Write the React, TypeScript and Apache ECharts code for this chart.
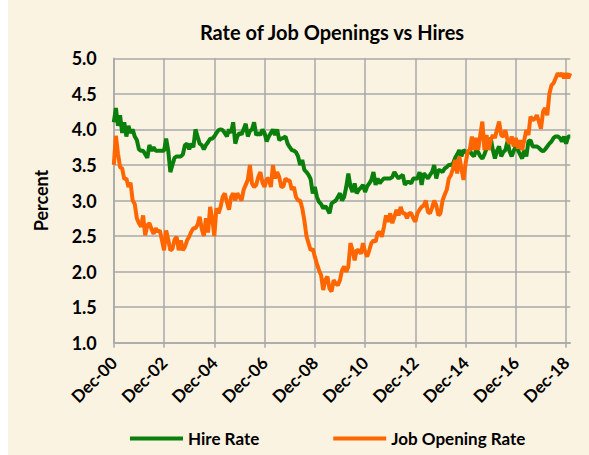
import React, { useEffect, useRef } from "react";
import * as echarts from "echarts";

// Monthly rates, Dec 2000 .. Feb 2019 (one row per year)
const hireRate: number[] = [
  4.1,
  4.3, 4.05, 4.2, 3.95, 4.1, 3.9, 4.05, 3.95, 4.0, 3.9, 3.85, 3.72,
  3.7, 3.7, 3.65, 3.6, 3.78, 3.7, 3.75, 3.7, 3.7, 3.7, 3.7, 3.7,
  3.87, 3.7, 3.4, 3.5, 3.6, 3.62, 3.62, 3.62, 3.65, 3.78, 3.8, 3.72,
  3.8, 3.75, 4.0, 3.9, 3.8, 3.78, 3.72, 3.78, 3.82, 3.87, 3.87, 3.9,
  3.95, 3.99, 4.0, 3.99, 3.95, 3.9, 4.0, 3.95, 4.1, 3.8, 3.9, 3.95,
  3.93, 4.0, 4.08, 3.9, 3.98, 4.0, 4.1, 3.92, 3.95, 3.92, 4.0, 3.95,
  3.83, 3.9, 3.95, 4.0, 3.92, 4.0, 3.85, 3.87, 3.88, 3.9, 3.8, 3.75,
  3.71, 3.7, 3.68, 3.62, 3.5, 3.57, 3.43, 3.4, 3.36, 3.3, 3.1, 3.19,
  3.05, 2.98, 2.95, 2.89, 2.92, 2.88, 2.82, 2.96, 2.98, 3.0, 3.05, 3.1,
  3.0, 3.05, 3.19, 3.38, 3.2, 3.12, 3.24, 3.1, 3.15, 3.18, 3.22, 3.12,
  3.2, 3.24, 3.29, 3.4, 3.22, 3.31, 3.24, 3.28, 3.31, 3.31, 3.31, 3.31,
  3.33, 3.4, 3.35, 3.31, 3.34, 3.36, 3.22, 3.26, 3.26, 3.24, 3.31, 3.31,
  3.31, 3.4, 3.22, 3.38, 3.35, 3.31, 3.36, 3.4, 3.5, 3.31, 3.43, 3.42,
  3.4, 3.45, 3.47, 3.5, 3.5, 3.52, 3.6, 3.65, 3.71, 3.62, 3.71, 3.68,
  3.66, 3.71, 3.65, 3.62, 3.71, 3.68, 3.62, 3.59, 3.65, 3.73, 3.8, 3.88,
  3.71, 3.59, 3.7, 3.76, 3.62, 3.68, 3.71, 3.83, 3.69, 3.62, 3.7, 3.76,
  3.71, 3.65, 3.59, 3.71, 3.62, 3.83, 3.85, 3.76, 3.76, 3.76, 3.74, 3.71,
  3.69, 3.72, 3.76, 3.8, 3.83, 3.88, 3.9, 3.9, 3.88, 3.83, 3.9, 3.8,
  3.9, 3.9,
];

const jobOpeningRate: number[] = [
  3.5,
  3.91, 3.66, 3.47, 3.45, 3.3, 3.31, 3.19, 3.25, 3.0, 2.95, 2.75, 2.68,
  2.63, 2.79, 2.51, 2.65, 2.68, 2.6, 2.53, 2.61, 2.56, 2.58, 2.44, 2.3,
  2.58, 2.45, 2.3, 2.32, 2.45, 2.49, 2.3, 2.44, 2.3, 2.35, 2.44, 2.49,
  2.56, 2.61, 2.61, 2.66, 2.77, 2.6, 2.5, 2.75, 2.55, 2.91, 2.75, 2.5,
  2.89, 2.82, 2.91, 3.05, 3.1, 2.98, 2.87, 3.05, 3.1, 3.0, 3.1, 3.05,
  3.0, 3.15, 3.22, 3.29, 3.5, 3.24, 3.19, 3.22, 3.33, 3.4, 3.25, 3.19,
  3.3, 3.31, 3.19, 3.5, 3.31, 3.4, 3.33, 3.19, 3.2, 3.31, 3.28, 3.28,
  3.15, 3.19, 3.05, 3.0, 3.0, 2.89, 2.72, 2.5, 2.4, 2.3, 2.32, 2.21,
  2.11, 2.02, 1.95, 1.74, 1.88, 1.93, 1.76, 1.72, 1.88, 1.83, 1.81, 1.88,
  2.02, 2.07, 2.0, 2.07, 2.4, 2.3, 2.16, 2.3, 2.3, 2.25, 2.4, 2.28,
  2.21, 2.3, 2.4, 2.44, 2.42, 2.54, 2.56, 2.49, 2.63, 2.79, 2.7, 2.82,
  2.68, 2.77, 2.87, 2.79, 2.91, 2.82, 2.82, 2.75, 2.82, 2.82, 2.75, 2.7,
  2.82, 2.87, 2.91, 2.93, 3.0, 2.84, 2.82, 2.9, 3.0, 2.93, 2.79, 2.82,
  3.0, 3.08, 3.15, 3.31, 3.36, 3.45, 3.57, 3.38, 3.62, 3.45, 3.29, 3.52,
  3.69, 3.71, 3.9, 3.71, 3.88, 3.71, 3.92, 4.11, 3.71, 3.92, 3.71, 3.85,
  3.92, 3.88, 4.0, 4.11, 3.92, 3.9, 3.99, 3.85, 3.8, 3.9, 3.76, 3.88,
  3.73, 3.85, 3.71, 3.85, 3.99, 3.92, 4.18, 4.13, 4.15, 4.2, 4.11, 4.01,
  4.25, 4.3, 4.2, 4.5, 4.62, 4.65, 4.72, 4.79, 4.75, 4.79, 4.72, 4.79,
  4.72, 4.79,
];

const monthNames = ["Jan", "Feb", "Mar", "Apr", "May", "Jun", "Jul", "Aug", "Sep", "Oct", "Nov", "Dec"];
const startYear = 2000;
const startMonth = 11; // December
const months: string[] = hireRate.map((_, i) => {
  const m = (startMonth + i) % 12;
  const y = startYear + Math.floor((startMonth + i) / 12);
  return `${monthNames[m]}-${String(y % 100).padStart(2, "0")}`;
});

const seriesNames = ["Hire Rate", "Job Opening Rate"];
const seriesColors = ["#0B7F0B", "#FF6600"];
const yMin = 1.0;
const yMax = 5.0;
const yStep = 0.5;

const FONT = "Lato, 'Open Sans', sans-serif";

export default function App() {
  const ref = useRef<HTMLDivElement>(null);
  useEffect(() => {
    if (!ref.current) return;
    const chart = echarts.init(ref.current, undefined, { renderer: "svg" });
    const grid = "#A9A9A9";
    chart.setOption({
      animation: false,
      backgroundColor: "#FFFFFF",
      graphic: [
        {
          type: "rect",
          z: -10,
          silent: true,
          shape: { x: 8, y: 0, width: 581, height: 455 },
          style: { fill: "#FBF3E2" },
        },
      ],
      title: {
        text: "Rate of Job Openings vs Hires",
        left: 327,
        top: 17,
        textAlign: "center",
        textStyle: { fontFamily: FONT, fontWeight: "bold", fontSize: 20, color: "#000" },
      },
      legend: {
        left: 125,
        top: 425,
        itemWidth: 53,
        itemHeight: 4,
        itemGap: 74,
        icon: "rect",
        data: seriesNames,
        textStyle: { fontFamily: FONT, fontWeight: "bold", fontSize: 17, color: "#000" },
      },
      grid: { left: 113.8, right: 18.7, top: 58.3, bottom: 112.3, containLabel: false },
      xAxis: {
        type: "category",
        data: months,
        boundaryGap: false,
        axisLine: { lineStyle: { color: grid, width: 1.5 } },
        axisTick: { show: true, interval: 23, length: 5, lineStyle: { color: grid, width: 1.5 } },
        splitLine: { show: true, interval: 23, lineStyle: { color: grid, width: 1.5 } },
        axisLabel: {
          interval: 23,
          rotate: 45,
          margin: 17,
          fontFamily: FONT,
          fontWeight: "bold",
          fontSize: 17,
          color: "#000",
        },
      },
      yAxis: {
        type: "value",
        min: yMin,
        max: yMax,
        interval: yStep,
        name: "Percent",
        nameLocation: "middle",
        nameRotate: 90,
        nameGap: 64,
        nameTextStyle: { fontFamily: FONT, fontWeight: "bold", fontSize: 18, color: "#000" },
        axisLine: { show: true, lineStyle: { color: grid, width: 1.5 } },
        axisTick: { show: false },
        splitLine: { lineStyle: { color: grid, width: 1.5 } },
        axisLabel: {
          margin: 17,
          formatter: (v: number) => v.toFixed(1),
          fontFamily: FONT,
          fontWeight: "bold",
          fontSize: 18,
          color: "#000",
        },
      },
      series: [
        {
          name: seriesNames[0],
          type: "line",
          data: hireRate,
          showSymbol: false,
          symbol: "none",
          color: seriesColors[0],
          lineStyle: { width: 4, color: seriesColors[0] },
        },
        {
          name: seriesNames[1],
          type: "line",
          data: jobOpeningRate,
          showSymbol: false,
          symbol: "none",
          color: seriesColors[1],
          lineStyle: { width: 4, color: seriesColors[1] },
        },
      ],
    });
    return () => chart.dispose();
  }, []);
  return (
    <div
      ref={ref}
      style={{ position: "fixed", left: 0, top: 0, width: 589, height: 455 }}
    />
  );
}
